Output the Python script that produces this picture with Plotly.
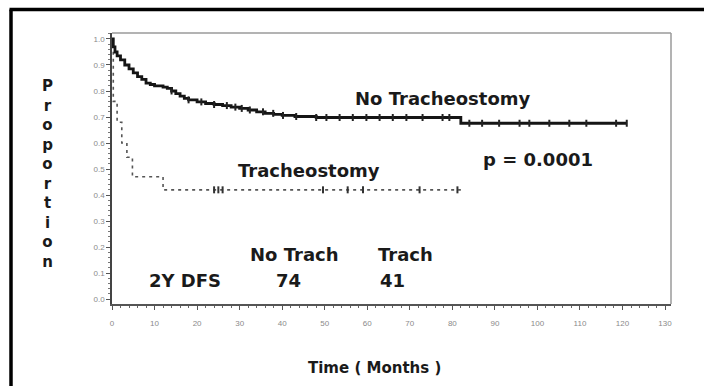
import plotly.graph_objects as go

# ---- data ----
no_trach_t = [0, 0.3, 0.7, 1.2, 2, 3, 4, 5, 6, 7, 8, 9, 10, 12, 13, 14, 15, 16, 17, 18, 20, 22, 24, 26, 28,
              30, 32, 34, 36, 38, 40, 43, 48, 82, 121]
no_trach_s = [1.0, 0.97, 0.95, 0.935, 0.92, 0.90, 0.885, 0.87, 0.855, 0.845, 0.83, 0.825, 0.82, 0.815, 0.81,
              0.80, 0.79, 0.78, 0.772, 0.766, 0.758, 0.752, 0.748, 0.744, 0.738, 0.733, 0.727, 0.72, 0.714,
              0.71, 0.706, 0.702, 0.698, 0.676, 0.676]
no_trach_cens = [14, 18, 21, 24, 27, 29, 30.5, 32.4, 35.5, 37.9, 40.2, 43.3, 48, 50.4, 53.5, 56.6, 59.8, 62.9,
                 66, 69.2, 73, 77.7, 79.3, 84, 87, 91, 95.8, 98.1, 102.8, 107.5, 111.5, 118.5, 121]

trach_t = [0, 0.3, 1.2, 2.3, 3.5, 4.8, 12, 82]
trach_s = [1.0, 0.76, 0.68, 0.60, 0.545, 0.47, 0.42, 0.42]
trach_cens = [24, 25, 26, 49.6, 55.4, 59, 72.3, 81.2]

x_ticks = list(range(0, 131, 10))
y_ticks = [i / 10 for i in range(0, 11)]

labels = ["No Tracheostomy", "Tracheostomy", "p = 0.0001"]
dfs_header = ["No Trach", "Trach"]
dfs_values = ["74", "41"]
dfs_label = "2Y DFS"


def step_value(ts, ss, t):
    v = ss[0]
    for ti, si in zip(ts, ss):
        if ti <= t:
            v = si
    return v


fig = go.Figure()

fig.add_trace(go.Scatter(x=trach_t, y=trach_s, mode="lines", line_shape="hv",
                         line=dict(color="#555555", width=1.6, dash="3px,4px"), showlegend=False))
fig.add_trace(go.Scatter(x=trach_cens, y=[step_value(trach_t, trach_s, t) for t in trach_cens],
                         mode="markers", marker=dict(symbol="line-ns", size=5,
                                                     line=dict(color="#333333", width=2)),
                         showlegend=False))
fig.add_trace(go.Scatter(x=no_trach_t, y=no_trach_s, mode="lines", line_shape="hv",
                         line=dict(color="#151515", width=2.8), showlegend=False))
fig.add_trace(go.Scatter(x=no_trach_cens, y=[step_value(no_trach_t, no_trach_s, t) for t in no_trach_cens],
                         mode="markers", marker=dict(symbol="line-ns", size=5,
                                                     line=dict(color="#222222", width=2)),
                         showlegend=False))

txt_font = dict(family="DejaVu Sans", size=18, color="#1a1a1a")
ann = [
    dict(x=77.9, y=0.773, text="<b>%s</b>" % labels[0]),
    dict(x=46.2, y=0.496, text="<b>%s</b>" % labels[1]),
    dict(x=100.2, y=0.535, text="<b>%s</b>" % labels[2]),
    dict(x=43, y=0.173, text="<b>%s</b>" % dfs_header[0]),
    dict(x=69, y=0.173, text="<b>%s</b>" % dfs_header[1]),
    dict(x=17.1, y=0.073, text="<b>%s</b>" % dfs_label),
    dict(x=41.5, y=0.073, text="<b>%s</b>" % dfs_values[0]),
    dict(x=66, y=0.073, text="<b>%s</b>" % dfs_values[1]),
]
annotations = []
for a in ann:
    a.update(xref="x", yref="y", showarrow=False, font=txt_font, xanchor="center", yanchor="middle")
    annotations.append(a)

annotations.append(dict(xref="paper", yref="paper", x=0.47, y=-0.236, showarrow=False,
                        text="<b>Time ( Months )</b>",
                        font=dict(family="DejaVu Sans", size=15, color="#1a1a1a"),
                        xanchor="center", yanchor="middle"))
annotations.append(dict(xref="paper", yref="paper", x=-0.1145, y=0.4815, showarrow=False,
                        text="<b>" + "<br>".join(list("Proportion")) + "</b>",
                        font=dict(family="DejaVu Sans", size=15, color="#1a1a1a"),
                        xanchor="center", yanchor="middle", align="center"))

# plot box geometry in px: left 112, right 671, top 33, bottom 304
W, H = 704, 386
L, R, T, B = 112, 671, 33, 304


def px(xp):
    return (xp - L) / (R - L)


def py(yp):
    return (B - yp) / (B - T)


shapes = [
    # light top / right frame of the plot box
    dict(type="line", xref="paper", yref="paper", x0=0, x1=1, y0=1, y1=1,
         line=dict(color="#9a9a9a", width=1.5)),
    dict(type="line", xref="paper", yref="paper", x0=1, x1=1, y0=0, y1=1,
         line=dict(color="#9a9a9a", width=1.5)),
    # thick outer frame (left and top)
    dict(type="line", xref="paper", yref="paper", x0=px(11), x1=px(11), y0=py(9.5), y1=py(390),
         line=dict(color="black", width=3.5)),
    dict(type="line", xref="paper", yref="paper", x0=px(9.5), x1=px(710), y0=py(9.5), y1=py(9.5),
         line=dict(color="black", width=3.5)),
]

tick_font = dict(family="Liberation Sans", size=8, color="#8a8a8a")

fig.update_layout(
    width=W, height=H,
    margin=dict(l=L, r=W - R, t=T, b=H - B),
    paper_bgcolor="white", plot_bgcolor="white",
    annotations=annotations, shapes=shapes,
    xaxis=dict(range=[0, 131.4], tickvals=x_ticks, ticktext=[str(v) for v in x_ticks],
               showgrid=False, zeroline=False, showline=True, linecolor="#555555", linewidth=1.5,
               ticks="outside", ticklen=4, tickcolor="#555555", tickwidth=1, tickfont=tick_font,
               ticklabelstandoff=7,
               minor=dict(dtick=2, ticks="outside", ticklen=2, tickcolor="#666666", tickwidth=1)),
    yaxis=dict(range=[-0.019, 1.023], tickvals=y_ticks, ticktext=["%.1f" % v for v in y_ticks],
               showgrid=False, zeroline=False, showline=True, linecolor="#444444", linewidth=1.5,
               ticks="outside", ticklen=4, tickcolor="#555555", tickwidth=1, tickfont=tick_font,
               minor=dict(dtick=0.02, ticks="outside", ticklen=2, tickcolor="#777777", tickwidth=1)),
)

fig.write_html("out.html")
